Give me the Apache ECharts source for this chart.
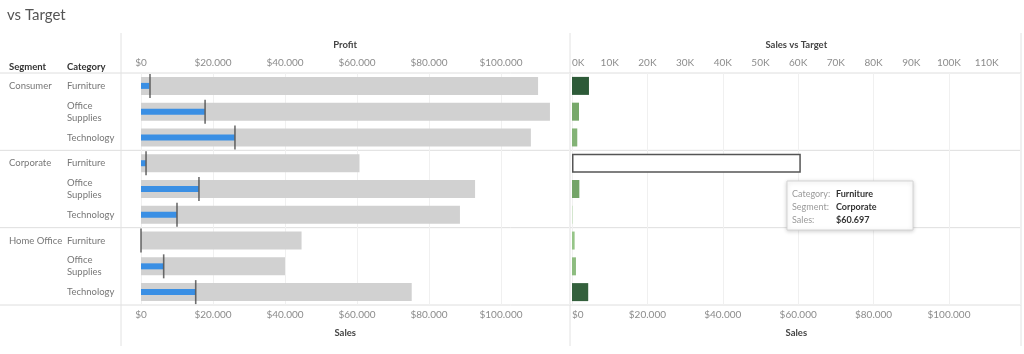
<!DOCTYPE html>
<html>
<head>
<meta charset="utf-8">
<title>vs Target</title>
<script src="https://cdn.jsdelivr.net/npm/echarts@6/dist/echarts.min.js"></script>
<style>
  html, body { margin: 0; padding: 0; background: #fff; }
  #chart { width: 1024px; height: 354px; }
</style>
</head>
<body>
<div id="chart"></div>
<script>
const segments   = ['Consumer', 'Corporate', 'Home Office'];
const categories = ['Furniture', 'Office Supplies', 'Technology'];

// one value per row, segment by segment
const sales         = [110300, 113600, 108300, 60697, 92800, 88600, 44600, 40000, 75200];
const profit        = [2300, 17700, 26000, 1300, 16000, 9900, 0, 6200, 15100];
const target        = [2500, 17800, 26100, 1400, 16100, 10000, 0, 6300, 15200];
const salesVsTarget = [4500, 1850, 1400, 900, 1950, 100, 700, 1050, 4300];

const highlightRow = 3;   // Corporate / Furniture, hovered mark
const tooltipLines = [['Category:', 'Furniture'], ['Segment:', 'Corporate'], ['Sales:', '$60.697']];

const rows = segments.flatMap(s => categories.map(c => s + '|' + c));

const FONT     = 'Lato, "Open Sans", sans-serif';
const TOP      = 73;
const HEIGHT   = 232;
const AXIS_MAX = 119000;
const L_LEFT = 141, L_W = 428.4;
const R_LEFT = 572, R_W = 448.6;
const GREENS = ['#a9d69a', '#6c9e60', '#2d5a38'];

const money = v => '$' + String(v).replace(/\B(?=(\d{3})+(?!\d))/g, '.');
const greenFor = v => echarts.color.lerp(Math.min(v / 4500, 1), GREENS);

const tickLabel = { color: '#8c8c8c', fontSize: 10, fontFamily: FONT, margin: 5 };
const axisName  = { color: '#444', fontSize: 9.5, fontWeight: 'bold', fontFamily: FONT };
const faintGrid = { show: true, lineStyle: { color: '#f0f0f0', width: 1 } };

function valueAxis(gridIndex, position, step, fmt, name, extra) {
  return Object.assign({
    type: 'value', gridIndex, position, min: 0, max: AXIS_MAX, interval: step,
    name, nameLocation: 'middle', nameGap: 23, nameTextStyle: axisName,
    axisLine: { show: false }, axisTick: { show: false },
    axisLabel: Object.assign({}, tickLabel, {
      formatter: v => (v % step === 0 ? fmt(v) : '')
    }),
    splitLine: { show: false }
  }, extra || {});
}

function rowAxis(gridIndex, labelCfg) {
  return {
    type: 'category', gridIndex, position: 'left', data: rows, inverse: true,
    axisLine: { show: false }, axisTick: { show: false }, splitLine: { show: false },
    axisLabel: labelCfg || { show: false }
  };
}

const chart = echarts.init(document.getElementById('chart'));

// panel frame lines
const sepYs = [0, 1, 2, 3].map(k => TOP + k * HEIGHT / 3);
const frame = [
  ...sepYs.map(y => ({ type: 'line', shape: { x1: 0, y1: y, x2: 1021, y2: y }, style: { stroke: '#dedede', lineWidth: 1 } })),
  ...[121, 570, 1021].map(x => ({ type: 'line', shape: { x1: x, y1: 33, x2: x, y2: 346 }, style: { stroke: '#e2e2e2', lineWidth: 1 } }))
];

const tip = {
  type: 'group', x: 787, y: 181, z: 100,
  children: [
    { type: 'rect', z: 100, shape: { x: 0, y: 0, width: 126, height: 49 },
      style: { fill: '#fff', stroke: '#d4d4d4', lineWidth: 1, shadowBlur: 4, shadowColor: 'rgba(0,0,0,0.18)', shadowOffsetY: 1 } },
    ...tooltipLines.flatMap((l, i) => [
      { type: 'text', z: 101, x: 5, y: 13 + i * 13, style: { text: l[0], fill: '#9a9a9a', font: '9px ' + FONT, verticalAlign: 'middle' } },
      { type: 'text', z: 101, x: 49, y: 13 + i * 13, style: { text: l[1], fill: '#333', font: 'bold 9px ' + FONT, verticalAlign: 'middle' } }
    ])
  ]
};

chart.setOption({
  backgroundColor: '#fff',
  animation: false,
  grid: [
    { left: L_LEFT, top: TOP, width: L_W, height: HEIGHT },
    { left: R_LEFT, top: TOP, width: R_W, height: HEIGHT }
  ],
  xAxis: [
    valueAxis(0, 'top', 20000, money, 'Profit', { nameTextStyle: Object.assign({}, axisName, { padding: [0, 20, 0, 0] }) }),
    valueAxis(0, 'bottom', 20000, money, 'Sales', { splitLine: faintGrid, nameTextStyle: Object.assign({}, axisName, { padding: [0, 20, 0, 0] }) }),
    valueAxis(1, 'top', 10000, v => (v / 1000) + 'K', 'Sales vs Target', { axisLabel: Object.assign({}, tickLabel, { alignMinLabel: 'left', formatter: v => (v % 10000 === 0 ? (v / 1000) + 'K' : '') }) }),
    valueAxis(1, 'bottom', 20000, money, 'Sales', { splitLine: faintGrid, axisLabel: Object.assign({}, tickLabel, { alignMinLabel: 'left', formatter: v => (v % 20000 === 0 ? money(v) : '') }) })
  ],
  yAxis: [
    rowAxis(0, {
      interval: 0, align: 'left', margin: L_LEFT - 67, color: '#777', fontSize: 9.5, fontFamily: FONT, lineHeight: 12,
      formatter: r => r.split('|')[1].replace(' ', '\n')
    }),
    rowAxis(0, {
      interval: 0, align: 'left', margin: L_LEFT - 9, color: '#777', fontSize: 9.5, fontFamily: FONT,
      formatter: (r, i) => (i % categories.length === 0 ? r.split('|')[0] : '')
    }),
    rowAxis(1),
    rowAxis(1)
  ],
  series: [
    { name: 'Sales', type: 'bar', xAxisIndex: 1, yAxisIndex: 0, data: sales, barWidth: 18,
      itemStyle: { color: '#d1d1d1' }, silent: true },
    { name: 'Profit', type: 'bar', xAxisIndex: 0, yAxisIndex: 1, data: profit, barWidth: 6,
      itemStyle: { color: '#3a8fe4' }, silent: true, z: 3 },
    { name: 'Target', type: 'scatter', xAxisIndex: 0, yAxisIndex: 1,
      data: target.map((v, i) => [v, i]), symbol: 'rect', symbolSize: [1.6, 24],
      itemStyle: { color: '#4a4a4a' }, silent: true, z: 4 },
    { name: 'Sales vs Target', type: 'bar', xAxisIndex: 3, yAxisIndex: 2, data: salesVsTarget, barWidth: 18,
      itemStyle: { color: p => greenFor(p.value) }, silent: true },
    { name: 'Hover', type: 'bar', xAxisIndex: 3, yAxisIndex: 3,
      data: sales.map((v, i) => (i === highlightRow ? v : '-')), barWidth: 19,
      itemStyle: { color: '#fff', borderColor: '#555', borderWidth: 1.5 }, silent: true, z: 5 }
  ],
  graphic: [
    { type: 'text', x: 7, y: 15, style: { text: 'vs Target', fill: '#555', font: '15px ' + FONT, verticalAlign: 'middle' } },
    { type: 'text', x: 9, y: 67, style: { text: 'Segment', fill: '#333', font: 'bold 9.5px ' + FONT, verticalAlign: 'middle' } },
    { type: 'text', x: 67, y: 67, style: { text: 'Category', fill: '#333', font: 'bold 9.5px ' + FONT, verticalAlign: 'middle' } },
    ...frame,
    tip
  ]
});
</script>
</body>
</html>
